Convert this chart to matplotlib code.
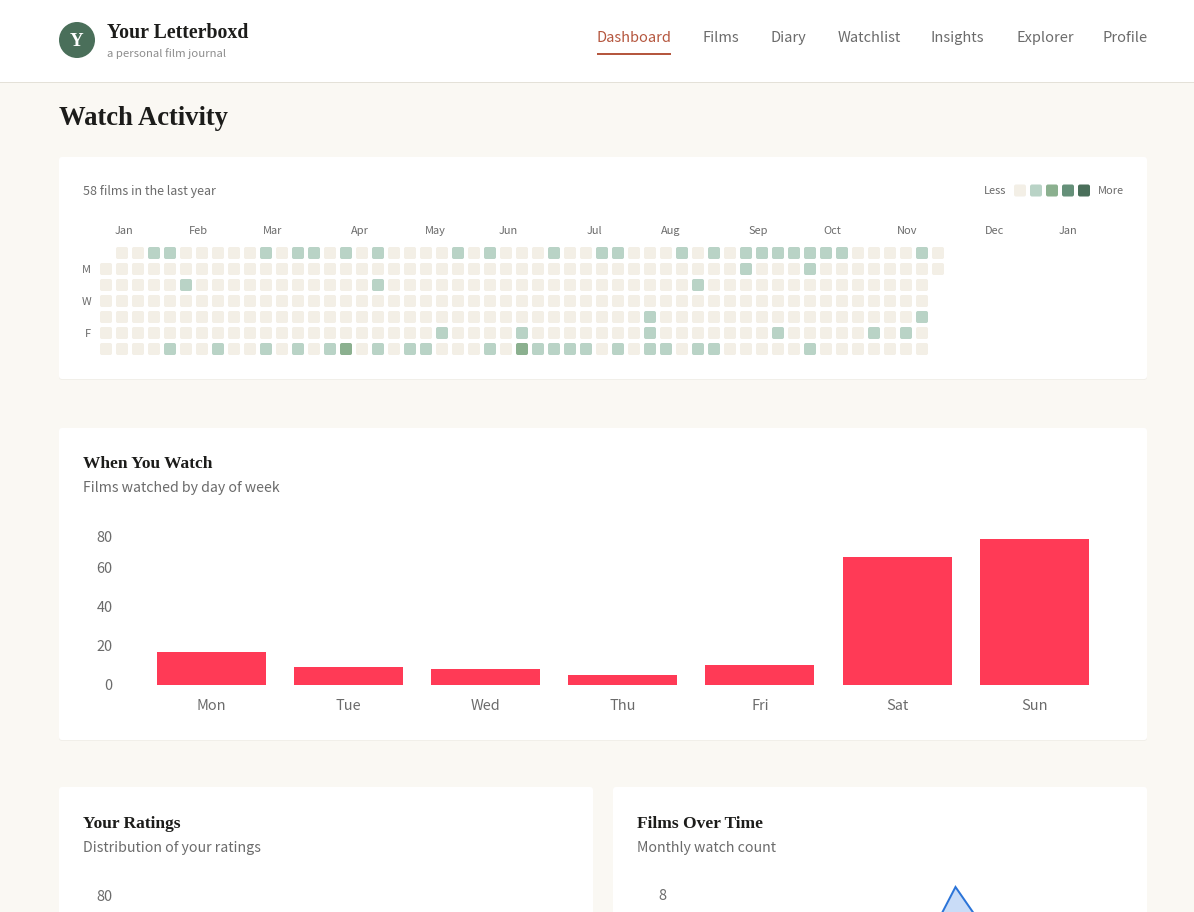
# Watch activity dashboard page
import matplotlib.pyplot as plt
from matplotlib.patches import FancyBboxPatch, Circle, Rectangle

plt.rcParams['font.family'] = ['Noto Sans CJK SC', 'DejaVu Sans']

SERIF = 'Liberation Serif'
INK = '#1c1c1a'
GREY = '#6b6b6b'
PAGE = '#faf8f3'
LEVELS = ['#f3efe6', '#b9d3c6', '#8bb08f', '#659079', '#4a6f5a']

nav_items = ["Dashboard", "Films", "Diary", "Watchlist", "Insights", "Explorer", "Profile"]
nav_x = [597, 703, 771, 838, 931, 1016, 1103]

# Heatmap: weeks with one film, one list per weekday row
row0_weeks = [3, 4, 10, 12, 13, 15, 17, 22, 24, 28, 31, 32, 36, 38, 40, 41, 42, 43, 44, 45, 46, 51]
row1_weeks = [40, 44]
row2_weeks = [5, 17, 37]
row3_weeks = []
row4_weeks = [34, 51]
row5_weeks = [21, 26, 34, 42, 48, 50]
row6_weeks = [4, 7, 10, 12, 14, 17, 19, 20, 24, 27, 28, 29, 30, 32, 34, 35, 37, 38, 44]
# Weeks with two films (bottom row)
row6_strong = [15, 26]
row_starts = [1, 0, 0, 0, 0, 0, 0]
row_ends = [52, 52, 51, 51, 51, 51, 51]

month_names = ["Jan", "Feb", "Mar", "Apr", "May", "Jun", "Jul", "Aug", "Sep", "Oct", "Nov", "Dec", "Jan"]
month_weeks = [0.56, 5.18, 9.81, 15.31, 19.93, 24.56, 30.06, 34.68, 40.18, 44.81, 49.43, 54.93, 59.56]
day_names = ["M", "W", "F"]
day_rows = [1, 3, 5]

# Films by day of week
days = ["Mon", "Tue", "Wed", "Thu", "Fri", "Sat", "Sun"]
day_counts = [17, 9, 8, 5, 10, 65.5, 74.6]
day_ticks = [0, 20, 40, 60, 76.3]
day_tick_labels = ["0", "20", "40", "60", "80"]

# Films over time, only the peak and its neighbours reach into the picture
month_index = [-1, 0, 1]
month_counts = [4, 8, 5]

fig = plt.figure(figsize=(1194 / 72, 912 / 72), dpi=72, facecolor=PAGE)


# Axes placed by pixel box, measured from the top left
def px_axes(left, top, width, height):
	return fig.add_axes([left / 1194, 1 - (top + height) / 912, width / 1194, height / 912], facecolor='none')


page = px_axes(0, 0, 1194, 912)
page.set_xlim(0, 1194)
page.set_ylim(912, 0)
page.axis('off')


def card(x, y, w, h):
	page.add_patch(FancyBboxPatch((x, y + 1), w, h, boxstyle="round,pad=0,rounding_size=3", fc='#f1efe9', ec='none'))
	page.add_patch(FancyBboxPatch((x, y), w, h, boxstyle="round,pad=0,rounding_size=3", fc='white', ec='none'))


def label(x, y, s, size, color=GREY, ha='left', **kw):
	page.text(x, y, s, fontsize=size, color=color, ha=ha, va='center', **kw)


# Header
page.add_patch(Rectangle((0, 0), 1194, 82, fc='white', ec='none'))
page.plot([0, 1194], [82, 82], color='#e4e1d8', lw=1)
page.add_patch(Circle((77, 40), 18, fc=LEVELS[4], ec='none'))
label(77, 41, "Y", 19, color='white', ha='center', family=SERIF, weight='bold')
label(107, 32.5, "Your Letterboxd", 19.9, color=INK, family=SERIF, weight='bold')
label(107, 54, "a personal film journal", 11.4, color='#8d8d8d')
for name, x in zip(nav_items, nav_x):
	label(x, 38, name, 14.6, color='#b5573f' if name == "Dashboard" else GREY)
page.plot([597, 671], [54, 54], color='#b5573f', lw=2, solid_capstyle='butt')

label(59, 118.5, "Watch Activity", 26.6, color=INK, family=SERIF, weight='bold')

# Cards
card(59, 157, 1088, 222)
card(59, 428, 1088, 312)
card(59, 787, 534, 200)
card(613, 787, 534, 200)

label(83, 191.5, "58 films in the last year", 12.5)
label(984, 191, "Less", 11)
label(1098, 191, "More", 11)
for i, c in enumerate(LEVELS):
	page.add_patch(FancyBboxPatch((1014 + 16 * i, 184.5), 12, 12, boxstyle="round,pad=0,rounding_size=2", fc=c, ec='none'))

label(83, 464.5, "When You Watch", 17.4, color=INK, family=SERIF, weight='bold')
label(83, 488, "Films watched by day of week", 14.2)
label(83, 824.5, "Your Ratings", 17.4, color=INK, family=SERIF, weight='bold')
label(83, 848, "Distribution of your ratings", 14.2)
label(637, 824.5, "Films Over Time", 17.4, color=INK, family=SERIF, weight='bold')
label(637, 848, "Monthly watch count", 14.2)

# Heatmap, the axes run on past the cells to hold the last month labels
heat = px_axes(98, 245, 1024, 112)
for s in heat.spines.values():
	s.set_visible(False)
active = [row0_weeks, row1_weeks, row2_weeks, row3_weeks, row4_weeks, row5_weeks, row6_weeks]
for row in range(7):
	for week in range(row_starts[row], row_ends[row] + 1):
		level = 1 if week in active[row] else 0
		if row == 6 and week in row6_strong:
			level = 2
		heat.add_patch(FancyBboxPatch((week - 0.375, row - 0.375), 0.75, 0.75,
			boxstyle="round,pad=0,rounding_size=0.12", fc=LEVELS[level], ec='none'))
heat.set_xticks(month_weeks)
heat.set_xticklabels(month_names, ha='left', fontsize=11, color=GREY)
heat.xaxis.tick_top()
heat.set_yticks(day_rows)
heat.set_yticklabels(day_names, fontsize=11, color=GREY)
heat.set_xlim(-0.5, 63.5)
heat.set_ylim(6.5, -0.5)
heat.tick_params(length=0)
heat.tick_params(axis='x', pad=9)
heat.tick_params(axis='y', pad=7)

# Day of week bars
bars = px_axes(142.6, 536, 960.3, 148.7)
bars.bar(range(len(days)), day_counts, width=0.795, color='#ff3a56')
bars.set_xlim(-0.5, 6.5)
bars.set_ylim(0, day_ticks[-1])
bars.set_xticks(range(len(days)))
bars.set_xticklabels(days, fontsize=14.5, color=GREY)
bars.set_yticks(day_ticks)
bars.set_yticklabels(day_tick_labels, fontsize=14.5, color=GREY)
bars.tick_params(length=0)
bars.tick_params(axis='x', pad=14.5)
bars.tick_params(axis='y', pad=30)
for s in bars.spines.values():
	s.set_visible(False)

# Ratings chart, only the top tick label is on the page
ratings = px_axes(142.6, 896, 420, 149)
ratings.set_ylim(0, 80)
ratings.set_xticks([])
ratings.set_yticks([80])
ratings.set_yticklabels(["80"], fontsize=14.5, color=GREY)
ratings.tick_params(length=0, pad=30)
for s in ratings.spines.values():
	s.set_visible(False)

# Monthly area, peak is cut by the bottom of the page
months = px_axes(955.5 - 41 * 1, 887, 82, 158)
months.plot(month_index, month_counts, color='#2b74d8', lw=2, clip_on=False, solid_joinstyle='miter')
months.fill_between(month_index, month_counts, 0, color='#c9dcf7', lw=0, clip_on=False, zorder=1)
months.set_xlim(-1, 1)
months.set_ylim(0, 8)
months.axis('off')
page.text(666, 896.5, "8", fontsize=14.5, color=GREY, ha='right', va='center')

fig.savefig("out.png", dpi=72, facecolor=PAGE)
